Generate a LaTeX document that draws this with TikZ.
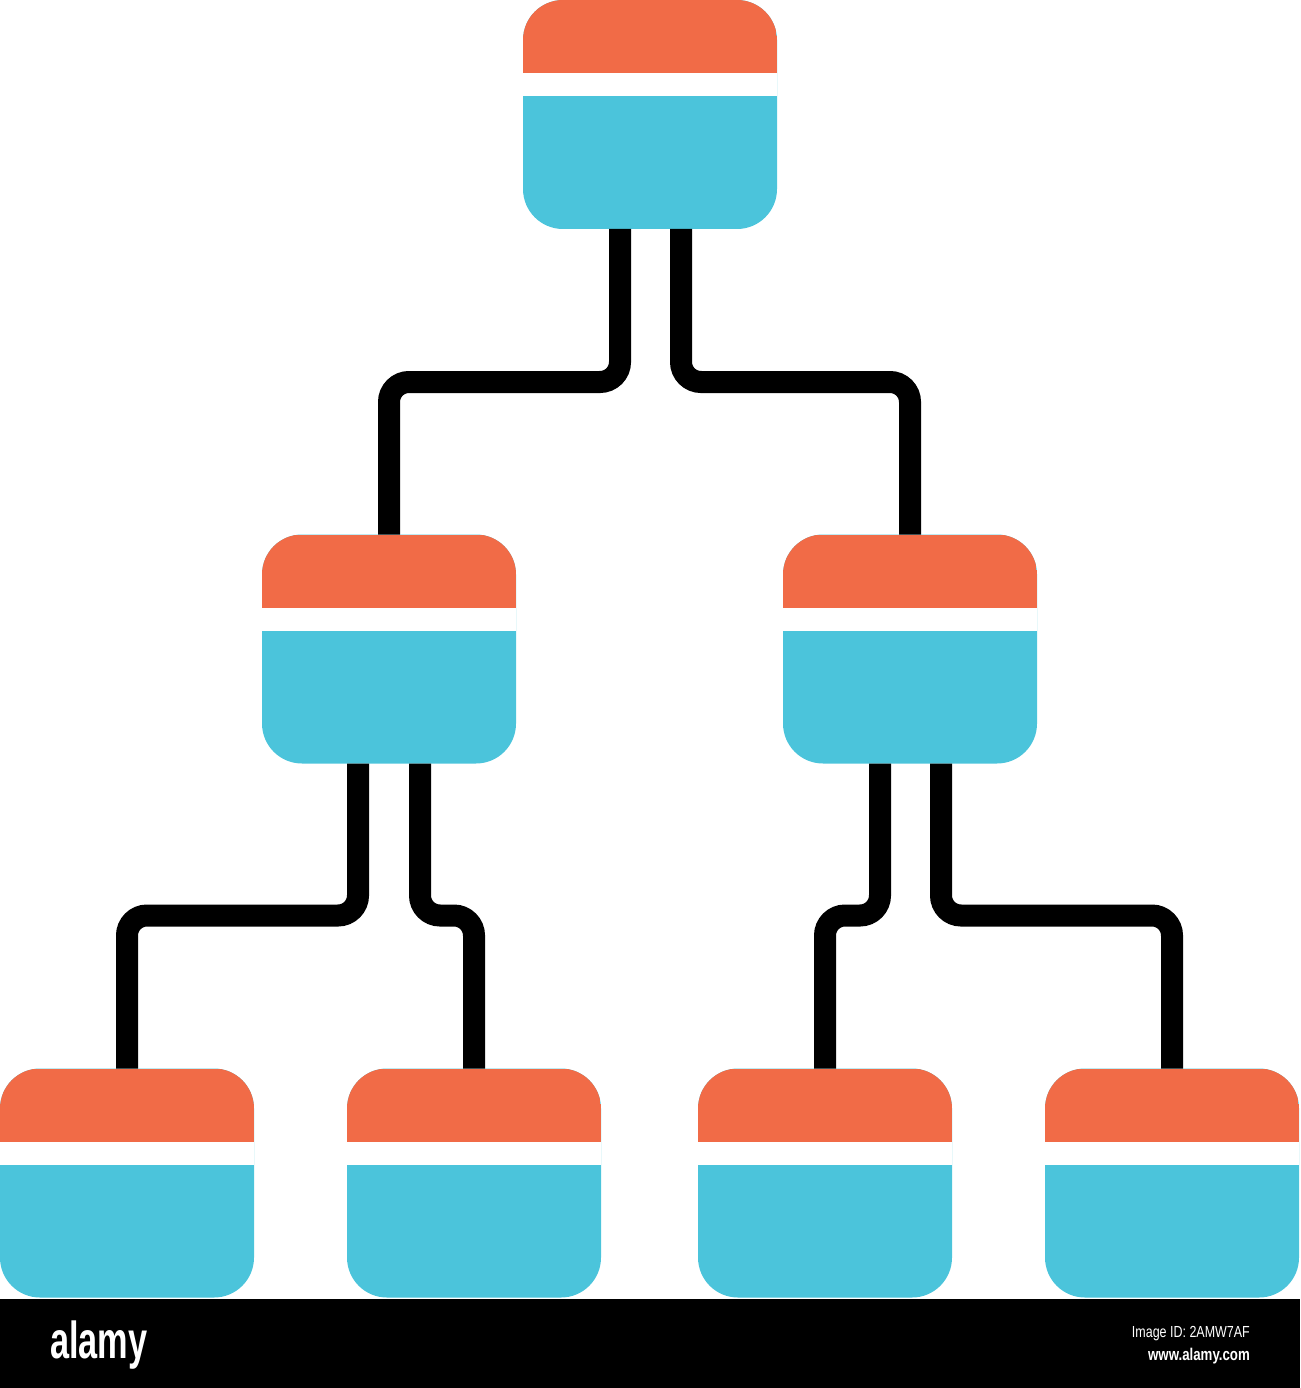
\documentclass[tikz,border=0pt]{standalone}
\usepackage{fontspec}
\setmainfont{Liberation Sans}
\usetikzlibrary{calc}
\definecolor{boxorange}{RGB}{241,107,71}
\definecolor{boxblue}{RGB}{75,196,219}

\begin{document}
\begin{tikzpicture}[x=1pt,y=1pt]
				\tikzstyle{boxnode}=[draw=none, fill=boxblue, rounded corners=40pt, minimum width=254pt, minimum height=229pt, inner sep=0pt, outer sep=0pt,
					path picture={
						\fill[boxorange, sharp corners] (path picture bounding box.north west) rectangle ([yshift=-73pt]path picture bounding box.north east);
						\fill[white, sharp corners] ([yshift=-73pt]path picture bounding box.north west) rectangle ([yshift=-96pt]path picture bounding box.north east);
					}]
				\tikzstyle{wire}=[draw=black, line width=22pt, rounded corners=20pt]
				\tikzstyle{bartext}=[text=white, inner sep=0pt, transform shape]
				
				\useasboundingbox (0,0) rectangle (1300,-1388);
				
				\node (b0) at (650,-114.5) [boxnode] {};
				
				\node (b1) at (389,-649) [boxnode] {};
				\node (b2) at (910,-649) [boxnode] {};
				
				\node (b11) at (127,-1183) [boxnode] {};
				\node (b12) at (474,-1183) [boxnode] {};
				\node (b21) at (825,-1183) [boxnode] {};
				\node (b22) at (1172,-1183) [boxnode] {};
				
				\draw [wire] ([xshift=-30pt]b0.south) -- ++(0,-153) -| (b1.north);
				\draw [wire] ([xshift=31pt]b0.south) -- ++(0,-153) -| (b2.north);
				
				\draw [wire] ([xshift=-31pt]b1.south) -- ++(0,-152) -| (b11.north);
				\draw [wire] ([xshift=31pt]b1.south) -- ++(0,-152) -| (b12.north);
				\draw [wire] ([xshift=-30pt]b2.south) -- ++(0,-152) -| (b21.north);
				\draw [wire] ([xshift=31pt]b2.south) -- ++(0,-152) -| (b22.north);
				
				% footer
				\fill[black] (0,-1299) rectangle (1300,-1388);
				\node (logo) at (50,-1358) [bartext, anchor=base west, xscale=0.66, font=\fontsize{52}{52}\selectfont\bfseries] {alamy};
				\node (imgid) at (1250,-1337) [bartext, anchor=base east, xscale=0.78, font=\fontsize{16}{16}\selectfont] {Image ID: 2AMW7AF};
				\node (url) at (1250,-1360) [bartext, anchor=base east, xscale=0.78, font=\fontsize{17}{17}\selectfont\bfseries] {www.alamy.com};
\end{tikzpicture}
\end{document}
